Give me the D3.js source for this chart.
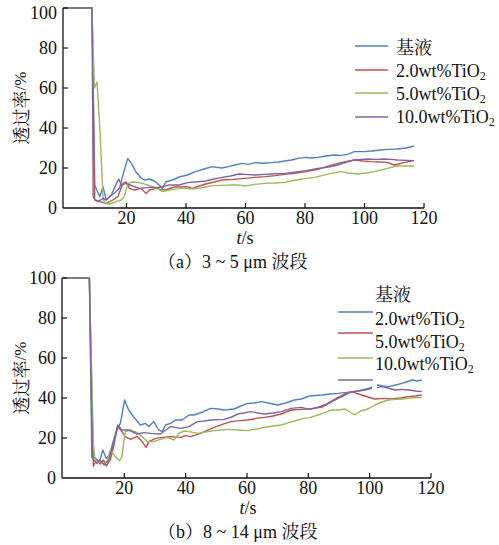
<!DOCTYPE html>
<html><head><meta charset="utf-8">
<script src="https://cdn.jsdelivr.net/npm/d3@7"></script>
<style>
html,body{margin:0;padding:0;background:#fff;}
text{font-family:"Liberation Serif","Noto Serif CJK SC","Noto Sans CJK SC",serif;fill:#111;}
</style></head>
<body>
<svg id="chart" width="499" height="545"></svg>
<script>
// ---------- data ----------
const seriesNames = ["基液", "2.0wt%TiO2", "5.0wt%TiO2", "10.0wt%TiO2"];
const seriesColors = ["#4F81BD", "#C0504D", "#9BBB59", "#8064A2"];
const xTicks = [20, 40, 60, 80, 100, 120];
const yTicks = [0, 20, 40, 60, 80, 100];
const captions = ["（a）3 ~ 5 μm 波段", "（b）8 ~ 14 μm 波段"];

// panel (a) 3~5 μm : [t (s), transmittance (%)]
const a_base = [[-1.3,100],[8.4,100],[9.3,11.5],[11,5.6],[12.1,10.6],[13.2,4],[14.3,5.6],[16,7.5],[17.7,10],[18.8,16.5],[20.4,24.8],[21.6,22.3],[23.2,18],[24.9,15],[26,14],[27.7,14.5],[29.3,13.5],[30.4,12.3],[32.1,9.8],[33.2,13],[35.4,14],[37.7,15.5],[40.4,16.5],[43.2,18.2],[46,19.5],[48.8,20.7],[52,20],[54.3,20.7],[56.5,21.5],[58.8,22.3],[61,21.8],[63.2,22.7],[66,22.4],[68.8,22.7],[71,23],[73.2,23.5],[75.5,24],[77.7,24.8],[80.4,25.3],[82,25],[84.3,25.3],[87,26],[89.9,26.5],[92,26.3],[94.3,26.8],[96.6,28.2],[99.9,28.2],[102.5,28.5],[105.4,29],[108,29.3],[111,29.5],[114,30],[116.6,31]];
const a_ti2 = [[-1.3,100],[8.4,100],[9.3,4],[11,3.2],[13.2,2.3],[15.4,4],[17.1,5.7],[18.8,12.3],[19.9,13],[21,9.8],[22.7,9],[24.9,9.8],[26.6,7.3],[27.7,9],[29.9,9.8],[31.5,9.3],[33.2,9],[35,10],[36.6,10.7],[38.5,10.5],[40.4,10.7],[42.1,9.8],[44.5,11],[46.6,12],[49.5,13],[52.1,14],[56,14.3],[59.9,14.8],[63,15.3],[66.6,15.7],[70,16.2],[73.2,16.8],[77,17.5],[80.4,18.2],[84.3,19.3],[87.5,20.8],[91,22.3],[94,23.3],[96.6,24],[99.5,23.5],[102.1,23.2],[105,23],[107.7,22.8],[109.9,21.5],[111.5,22],[113.2,22.7],[116.6,23.7]];
const a_ti5 = [[-1.3,100],[8.4,100],[9.2,60],[10.1,63],[11,40.7],[12.1,5.7],[12.6,2.3],[14.3,2],[16.6,3.2],[18.2,4],[19.3,5.7],[20.4,12.3],[22.1,13],[23.8,12.8],[25.4,12.3],[27,11.5],[28.8,10.7],[30.5,9.5],[32.1,8.2],[33.8,8.8],[35.4,9.3],[37.7,9.8],[40.4,9.8],[42,9.5],[44.3,9.8],[46.5,10.5],[48.8,11.2],[52,11.3],[55.4,11.5],[57.5,11.5],[59.9,11],[63,11.8],[66.6,12.3],[70,12.5],[73.2,12.8],[77,14],[80.4,14.8],[83.2,15.3],[86,16.3],[88.8,17.3],[92.1,18.2],[94.5,17.5],[97.7,17],[100.5,17.5],[103.2,18.2],[105.5,19],[107.7,19.8],[111,21],[114,21],[116.6,21]];
const a_ti10 = [[-1.3,100],[8.4,100],[8.8,5.7],[9.4,4],[10.4,3.2],[12.1,4.8],[13.2,4],[14.9,6.5],[16.6,12.3],[17.4,14.5],[18.2,11.5],[19.9,12.3],[22.1,11],[24.3,9.8],[27.7,10.3],[31,10.3],[34.3,11.5],[37.7,11.5],[40.4,12.7],[43,13],[46.6,13.5],[49.5,14.5],[52.1,15.3],[55,16],[57.7,17],[60,16.8],[63.2,16.5],[66.5,16.8],[68.8,17],[73.2,17.3],[77.7,18.2],[80.4,18.7],[84.3,19.8],[88,20.5],[91,21.5],[94,23],[96.6,24],[99,24.3],[101,24.5],[104,24.3],[106.6,24.5],[109,24.3],[111,24],[114,23.8],[116.6,23.7]];

// panel (b) 8~14 μm
const b_base = [[0,100],[8.6,100],[9.4,10.7],[10.5,9.8],[11.9,8.2],[13,14],[14.1,9.8],[15.2,11.5],[16.5,19],[17.6,24],[18.7,27.3],[20.1,39],[21.4,34],[23,30.7],[25.2,26.5],[26.9,27.3],[28,25.7],[29.6,28.2],[31.2,24],[32.4,23.2],[33.4,26.5],[35.1,27.3],[36.7,29],[38.9,29],[41.1,31.5],[42.7,31.5],[45.5,33],[48.2,34.8],[50.5,34.5],[52.6,34],[55.8,34.5],[58,36],[60.2,37.3],[62.5,37.5],[64.6,38.2],[67,37.5],[70,36.5],[72.5,37.5],[75.5,39],[77.7,39.5],[80.4,41],[84.3,41.5],[87,42],[89.7,42.3],[92.5,42.8],[95.2,43.2],[97.5,44],[99.6,44.8],[102.8,46.5],[104.5,46],[106.1,45.7],[108.5,46.5],[110.5,47.3],[112,48],[113.8,49],[115.5,48.5],[117,49]];
const b_ti2 = [[0,100],[8.6,100],[9.9,6],[11,9],[12.1,7],[13.2,9],[14.1,6],[15.4,9],[16.5,15.7],[17.8,25.7],[19.2,23.2],[20.3,20.7],[22,19.3],[24.2,20.7],[25.8,18.2],[27.1,15.3],[28,18.2],[30.2,19.8],[32.4,20.3],[35.1,20.7],[38.4,20.3],[40,21.2],[41.6,20.7],[44.9,22.3],[47,23.8],[49.3,25.3],[52,26.8],[54.8,28.2],[57.5,28.7],[60.2,29],[63,29.8],[65.7,30.3],[68.5,31],[71.1,32],[74.4,34],[77.7,34.3],[80,34.5],[82.1,34.8],[85.3,36.5],[87.5,38.5],[89.7,40.3],[92,42],[94.1,43.2],[97.4,41.5],[99.5,40.5],[101.7,39.5],[104.5,39.8],[107.2,39.5],[110,40],[112.7,40.7],[115,41],[117,41.5]];
const b_ti5 = [[0,100],[8.6,100],[9.9,17],[10.5,9],[11.6,8.2],[13.2,7.3],[14.3,8.2],[15.4,14],[17,10.7],[18.5,8.7],[19.2,10.7],[20.3,23.2],[22,24],[23.6,23.2],[25.8,20.7],[27.4,18.2],[29.6,18.2],[31.8,19.3],[34,20.3],[36.2,19],[37.8,22.3],[39.5,23.5],[41.1,23.2],[43.8,22.3],[46.5,23],[49.3,23.7],[51.5,24],[53.7,24.3],[57,24],[60.2,23.7],[63,24.5],[65.7,25.3],[68.5,26],[71.1,26.5],[74,27.8],[76.6,29],[78.5,29.8],[80.4,30.2],[83.2,31.5],[85.5,32.8],[87.5,34],[89.7,34],[91.9,34.5],[93.5,33],[95.2,31.5],[97,33.5],[98.5,34],[100,35],[101.7,36.5],[104,38],[106.1,39],[108.5,39.3],[110.5,39.5],[113.5,40],[117,40.3]];
const b_ti10 = [[0,100],[8.6,100],[9.6,9.8],[11,7.3],[12.1,9],[13.4,6.5],[14.9,9],[16.5,17.3],[17.8,26.5],[19.2,24],[21.4,24],[24.2,22],[26.3,22.7],[28.5,22.3],[31.8,22],[33.5,24],[35.1,25.7],[38.4,24.8],[41.1,25.7],[43.8,28.2],[46,28.5],[48.2,29],[52.6,29.3],[55,30.5],[57,32],[59,32.5],[61.3,33.2],[63.5,32.5],[65.7,32],[68.5,32.5],[71.1,33.2],[74.4,34.8],[77.7,35.3],[80.4,34.3],[82,35],[84.3,35.3],[87,37.5],[89.7,39.8],[92,41.5],[94.1,43.2],[96.5,43.5],[98.5,44],[100.7,44.8],[104,45.7],[106,45],[108.4,44],[110.5,44.3],[112.7,44],[115,43.5],[117,43.2]];

// ---------- layout ----------
const panels = [
  {series:[a_base,a_ti2,a_ti5,a_ti10], xDom:[-1.35,120], xRange:[63,424], yRange:[208,8], axisX:63,
   yTitle:[20,108], xTitle:[245,244], caption:[158,268],
   legLines:{x1:355,x2:388,ys:[46,70,93,117]}, legText:{x:396,ys:[54,77,100,123]}, mask:null},
  {series:[b_base,b_ti2,b_ti5,b_ti10], xDom:[0,120], xRange:[63,431], yRange:[478,278], axisX:62,
   yTitle:[20,378], xTitle:[248,514], caption:[158,538],
   legLines:{x1:338,x2:373,ys:[312,333,358,380]}, legText:{x:375,ys:[301,325,348,370]}, mask:[372,374,5,16]}
];

const svg = d3.select("#chart");

panels.forEach((p, pi) => {
  const g = svg.append("g");
  const x = d3.scaleLinear().domain(p.xDom).range(p.xRange);
  const y = d3.scaleLinear().domain([0,100]).range(p.yRange);
  const line = d3.line().x(d => x(d[0])).y(d => y(d[1]));

  p.series.forEach((s, i) => {
    g.append("path").datum(s).attr("d", line)
      .attr("fill","none").attr("stroke", seriesColors[i])
      .attr("stroke-width", 1.4).attr("stroke-linejoin","round");
  });

  if (p.mask) {
    g.append("rect").attr("x",p.mask[0]).attr("y",p.mask[1]).attr("width",p.mask[2]).attr("height",p.mask[3]).attr("fill","#fff");
  }

  const x0 = p.axisX;
  const xEnd = x(120);
  g.append("line").attr("x1",x0).attr("x2",xEnd).attr("y1",y(0)).attr("y2",y(0)).attr("stroke","#111").attr("stroke-width",1.3);
  g.append("line").attr("x1",x0).attr("x2",x0).attr("y1",y(0)).attr("y2",y(100)).attr("stroke","#111").attr("stroke-width",1.3);

  xTicks.forEach(t => {
    g.append("line").attr("x1",x(t)).attr("x2",x(t)).attr("y1",y(0)).attr("y2",y(0)-5).attr("stroke","#111").attr("stroke-width",1.2);
    g.append("text").attr("x",x(t)).attr("y",y(0)+16).attr("text-anchor","middle")
      .attr("font-size",18).text(t);
  });
  yTicks.forEach(v => {
    if (v > 0) g.append("line").attr("x1",x0).attr("x2",x0+5).attr("y1",y(v)).attr("y2",y(v)).attr("stroke","#111").attr("stroke-width",1.2);
    g.append("text").attr("x",x0-6).attr("y",Math.max(y(v)+6, 19)).attr("text-anchor","end")
      .attr("font-size",18).text(v);
  });

  const yt = g.append("text").attr("transform",`translate(${p.yTitle[0]},${p.yTitle[1]}) rotate(-90)`)
    .attr("text-anchor","middle").attr("dominant-baseline","central").attr("font-size",18);
  yt.append("tspan").style("font-family",'"Noto Serif CJK SC","Noto Sans CJK SC",serif').text("透过率");
  yt.append("tspan").attr("font-size",17).text("/%");

  const xt = g.append("text").attr("x",p.xTitle[0]).attr("y",p.xTitle[1]).attr("text-anchor","middle").attr("font-size",18);
  xt.append("tspan").attr("font-style","italic").text("t");
  xt.append("tspan").text("/s");

  g.append("text").attr("x",p.caption[0]).attr("y",p.caption[1]).attr("font-size",18).text(captions[pi]);

  p.legLines.ys.forEach((ly, i) => {
    g.append("line").attr("x1",p.legLines.x1).attr("x2",p.legLines.x2).attr("y1",ly).attr("y2",ly)
      .attr("stroke",seriesColors[i]).attr("stroke-width",1.5);
  });
  p.legText.ys.forEach((ty, i) => {
    const t = g.append("text").attr("x",p.legText.x).attr("y",ty).attr("font-size",18);
    const name = seriesNames[i];
    if (name.endsWith("TiO2")) {
      t.append("tspan").text(name.slice(0,-1));
      t.append("tspan").attr("font-size",12).attr("dy",3).text("2");
    } else {
      t.text(name);
    }
  });
});
</script>
</body></html>
